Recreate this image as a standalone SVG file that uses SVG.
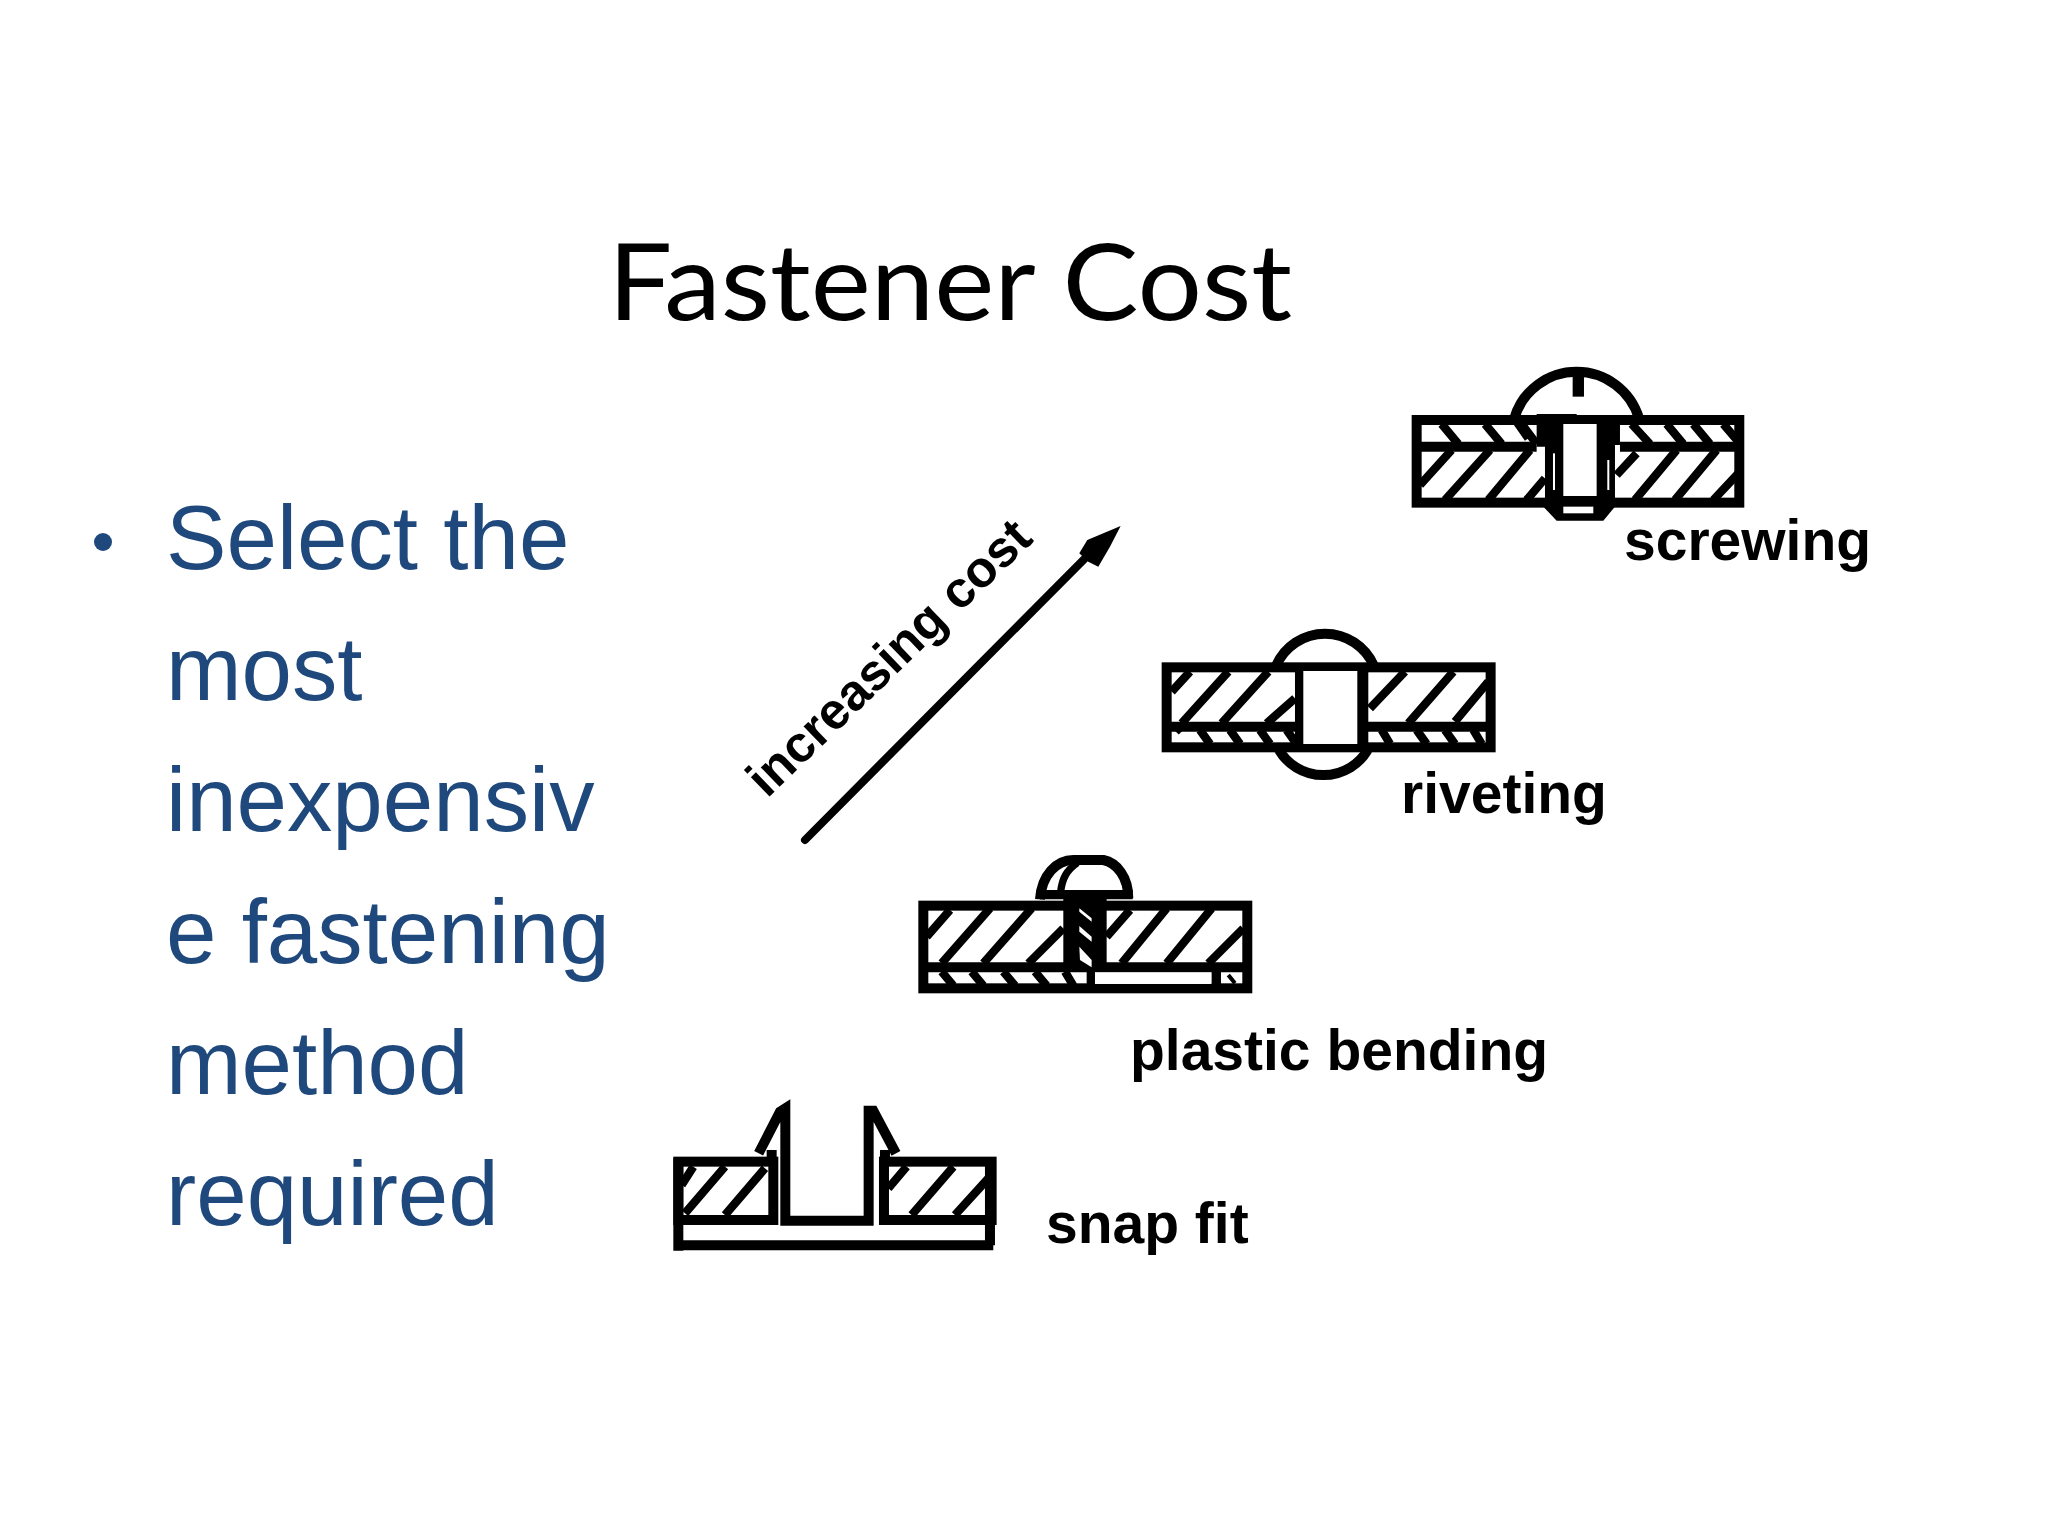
<svg xmlns="http://www.w3.org/2000/svg" width="2048" height="1536" viewBox="0 0 2048 1536">
<style>
.t{font-family:"Lato","Carlito",sans-serif;font-size:107px;fill:#000}
.b{font-family:"Liberation Sans",Arial,sans-serif;font-size:90.7px;fill:#1F497D}
.l{font-family:"Liberation Sans",Arial,sans-serif;font-size:57px;font-weight:bold;fill:#000}
.r{font-size:51px}
.o{fill:none;stroke:#000;stroke-width:30}
.h{fill:none;stroke:#000;stroke-width:25}
.k{fill:#000}
.w{fill:#fff}
</style>
<rect width="2048" height="1536" fill="#fff"/>
<text class="t" x="608" y="320" textLength="684" lengthAdjust="spacingAndGlyphs">Fastener Cost</text>
<g id="bullets">
<circle cx="103" cy="542" r="9" fill="#1F497D"/>
<text class="b" x="166" y="569">Select the</text>
<text class="b" x="166" y="700">most</text>
<text class="b" x="166" y="831">inexpensiv</text>
<text class="b" x="166" y="963">e fastening</text>
<text class="b" x="166" y="1094">method</text>
<text class="b" x="166" y="1225">required</text>
</g>
<g id="connectors">
<path d="M225,990 L1065,145" transform="translate(730,510) scale(.3333)" fill="none" stroke="#000" stroke-width="24" stroke-linecap="round"/>
<polygon transform="translate(730,510) scale(.3333)" points="1172,48 1072,90 1048,130 1075,155 1105,170 1140,110" class="k"/>
</g>
<text id="increasing-cost" class="l r" transform="translate(767,799) rotate(-44)" textLength="372">increasing cost</text>
<g id="screwing">
<g transform="translate(1380,350) scale(.3333)">
<path class="o" d="M403,205 A195,195 0 0 1 777,205"/>
<path class="h" d="M403,205 L445,265"/>
<rect class="k" x="578" y="70" width="34" height="70"/>
<path class="h" d="M185,222 L235,282 M315,222 L365,282 M425,222 L470,282 M755,222 L810,282 M860,222 L910,282 M940,222 L990,282 M1030,222 L1075,275"/>
<path class="h" d="M215,300 L120,405 M330,300 L195,450 M450,300 L325,450 M495,385 L440,450 M770,310 L710,375 M890,300 L765,450 M1010,300 L885,450 M1075,370 L1000,450"/>
<rect class="o" x="110" y="210" width="968" height="248"/>
<path class="o" d="M100,290 H470 M720,290 H1078"/>
<path class="k" d="M470,192 H590 V205 H720 V285 H705 V470 L670,512 H530 L490,470 H495 V290 H470 Z"/>
<rect class="w" x="550" y="222" width="100" height="216"/>
<rect class="w" x="550" y="470" width="90" height="20"/>
<rect class="w" x="519" y="310" width="6" height="110"/>
<rect class="w" x="682" y="330" width="6" height="90"/>
</g>
<text class="l" x="1624" y="560">screwing</text>
</g>
<g id="riveting">
<g transform="translate(1140,610) scale(.3333)">
<path class="o" d="M408,168 A160,160 0 0 1 702,168 M417,420 A155,155 0 0 0 683,420"/>
<path class="h" d="M150,185 L95,245 M265,185 L125,340 M385,185 L245,340 M465,265 L380,340 M795,185 L690,295 M940,185 L805,340 M1045,215 L945,335"/>
<path class="h" d="M115,355 L125,365 M180,360 L210,402 M270,360 L300,402 M360,360 L390,402 M440,360 L470,402 M725,360 L750,402 M830,360 L860,402 M915,360 L945,402 M1000,360 L1025,402"/>
<rect class="o" x="80" y="172" width="972" height="240"/>
<path class="o" d="M80,350 H1052"/>
<rect class="k" x="465" y="172" width="220" height="240"/>
<rect class="w" x="490" y="183" width="162" height="219"/>
</g>
<text class="l" x="1401" y="813">riveting</text>
</g>
<g id="plastic-bending">
<g transform="translate(900,840) scale(.3333)">
<path class="o" d="M420,178 C425,105 470,60 520,60 L610,60 C650,68 685,110 685,175"/>
<path class="k" d="M420,150 H698 V178 H420 Z"/>
<path class="o" style="stroke-width:22" d="M482,155 C487,115 500,90 532,68"/>
<path class="h" d="M150,210 L80,290 M270,205 L125,370 M395,205 L250,370 M490,265 L385,370 M690,210 L620,290 M800,205 L665,370 M935,205 L800,370 M1030,265 L925,370"/>
<path class="h" d="M125,395 L160,437 M215,395 L250,437 M310,395 L345,437 M405,395 L440,437 M495,395 L520,437"/>
<rect class="o" x="70" y="197" width="972" height="248"/>
<path class="o" d="M70,382 H1040"/>
<rect class="k" x="490" y="165" width="130" height="225"/>
<polygon class="w" points="538,205 575,235 575,245 538,215"/>
<polygon class="w" points="538,258 575,290 575,305 538,275"/>
<polygon class="w" points="538,320 575,360 575,382 540,360"/>
<rect class="w" x="585" y="398" width="350" height="34"/>
<rect class="k" x="560" y="395" width="25" height="42"/>
<rect class="k" x="935" y="395" width="28" height="42"/>
<path class="h" style="stroke-width:12" d="M985,405 L1005,430"/>
</g>
<text class="l" x="1130" y="1070">plastic bending</text>
</g>
<g id="snap-fit">
<g transform="translate(660,1090) scale(.3333)">
<path class="h" d="M100,230 L65,285 M195,230 L75,370 M315,235 L195,375 M740,230 L685,295 M880,230 L755,375 M985,265 L885,375"/>
<rect class="o" x="55" y="215" width="285" height="175"/>
<rect class="o" x="672" y="215" width="323" height="175"/>
<path class="o" d="M55,205 V482 M45,466 H1000 M990,215 V466"/>
<path class="o" d="M296,190 L360,65 L376,55 V392 H626 V62 H640 L708,190"/>
<rect class="k" x="320" y="180" width="30" height="40"/>
<rect class="k" x="660" y="180" width="30" height="40"/>
</g>
<text class="l" x="1046" y="1243">snap fit</text>
</g>
</svg>
